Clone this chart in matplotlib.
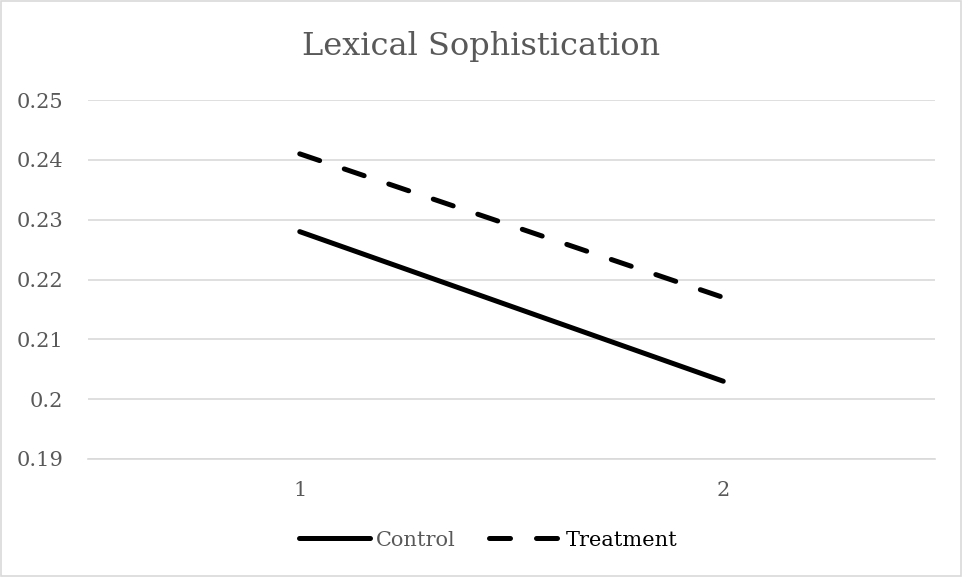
import matplotlib.pyplot as plt
from matplotlib.patches import Rectangle

# Data
categories = ["1", "2"]
control = [0.228, 0.203]
treatment = [0.241, 0.217]
y_ticks = [0.19, 0.20, 0.21, 0.22, 0.23, 0.24, 0.25]
y_tick_labels = ["0.19", "0.2", "0.21", "0.22", "0.23", "0.24", "0.25"]

TEXT = "#595959"
GRID = "#D9D9D9"
SERIF = ["DejaVu Serif"]

fig = plt.figure(figsize=(9.63, 5.77), dpi=100)
ax = fig.add_axes([88 / 963, 1 - 459 / 577, 847 / 963, 359 / 577])

x = [0, 1]
ax.plot(x, control, color="black", linewidth=3.6, solid_capstyle="round",
        label="Control")
ax.plot(x, treatment, color="black", linewidth=3.6, dash_capstyle="round",
        dashes=(4.2, 5.2), label="Treatment")

ax.set_xlim(-0.5, 1.5)
ax.set_ylim(0.19, 0.25)
ax.set_yticks(y_ticks)
ax.set_yticklabels(y_tick_labels, family=SERIF, fontsize=15, color=TEXT)
ax.set_xticks(x)
ax.set_xticklabels(categories, family=SERIF, fontsize=15, color=TEXT)
ax.tick_params(axis="both", length=0)
ax.tick_params(axis="y", pad=18)
ax.tick_params(axis="x", pad=16)
ax.grid(axis="y", color=GRID, linewidth=1.2)
ax.set_axisbelow(True)
for spine in ("top", "right", "left"):
    ax.spines[spine].set_visible(False)
ax.spines["bottom"].set_color(GRID)
ax.spines["bottom"].set_linewidth(1.2)

fig.text(0.5, 1 - 47 / 577, "Lexical Sophistication", ha="center", va="center",
         family=SERIF, fontsize=23, color=TEXT)

leg = fig.legend(loc="center", bbox_to_anchor=(0.507, 1 - 540 / 577), ncol=2,
                 frameon=False, handlelength=3.4, handletextpad=0.3,
                 columnspacing=1.6, prop={"family": SERIF, "size": 15})
leg.get_texts()[0].set_color(TEXT)
leg.get_texts()[1].set_color("black")

fig.patches.append(Rectangle((0.001, 0.002), 0.997, 0.996, transform=fig.transFigure,
                             fill=False, edgecolor=GRID, linewidth=1.2))

fig.savefig("out.png", dpi=100, facecolor="white")
